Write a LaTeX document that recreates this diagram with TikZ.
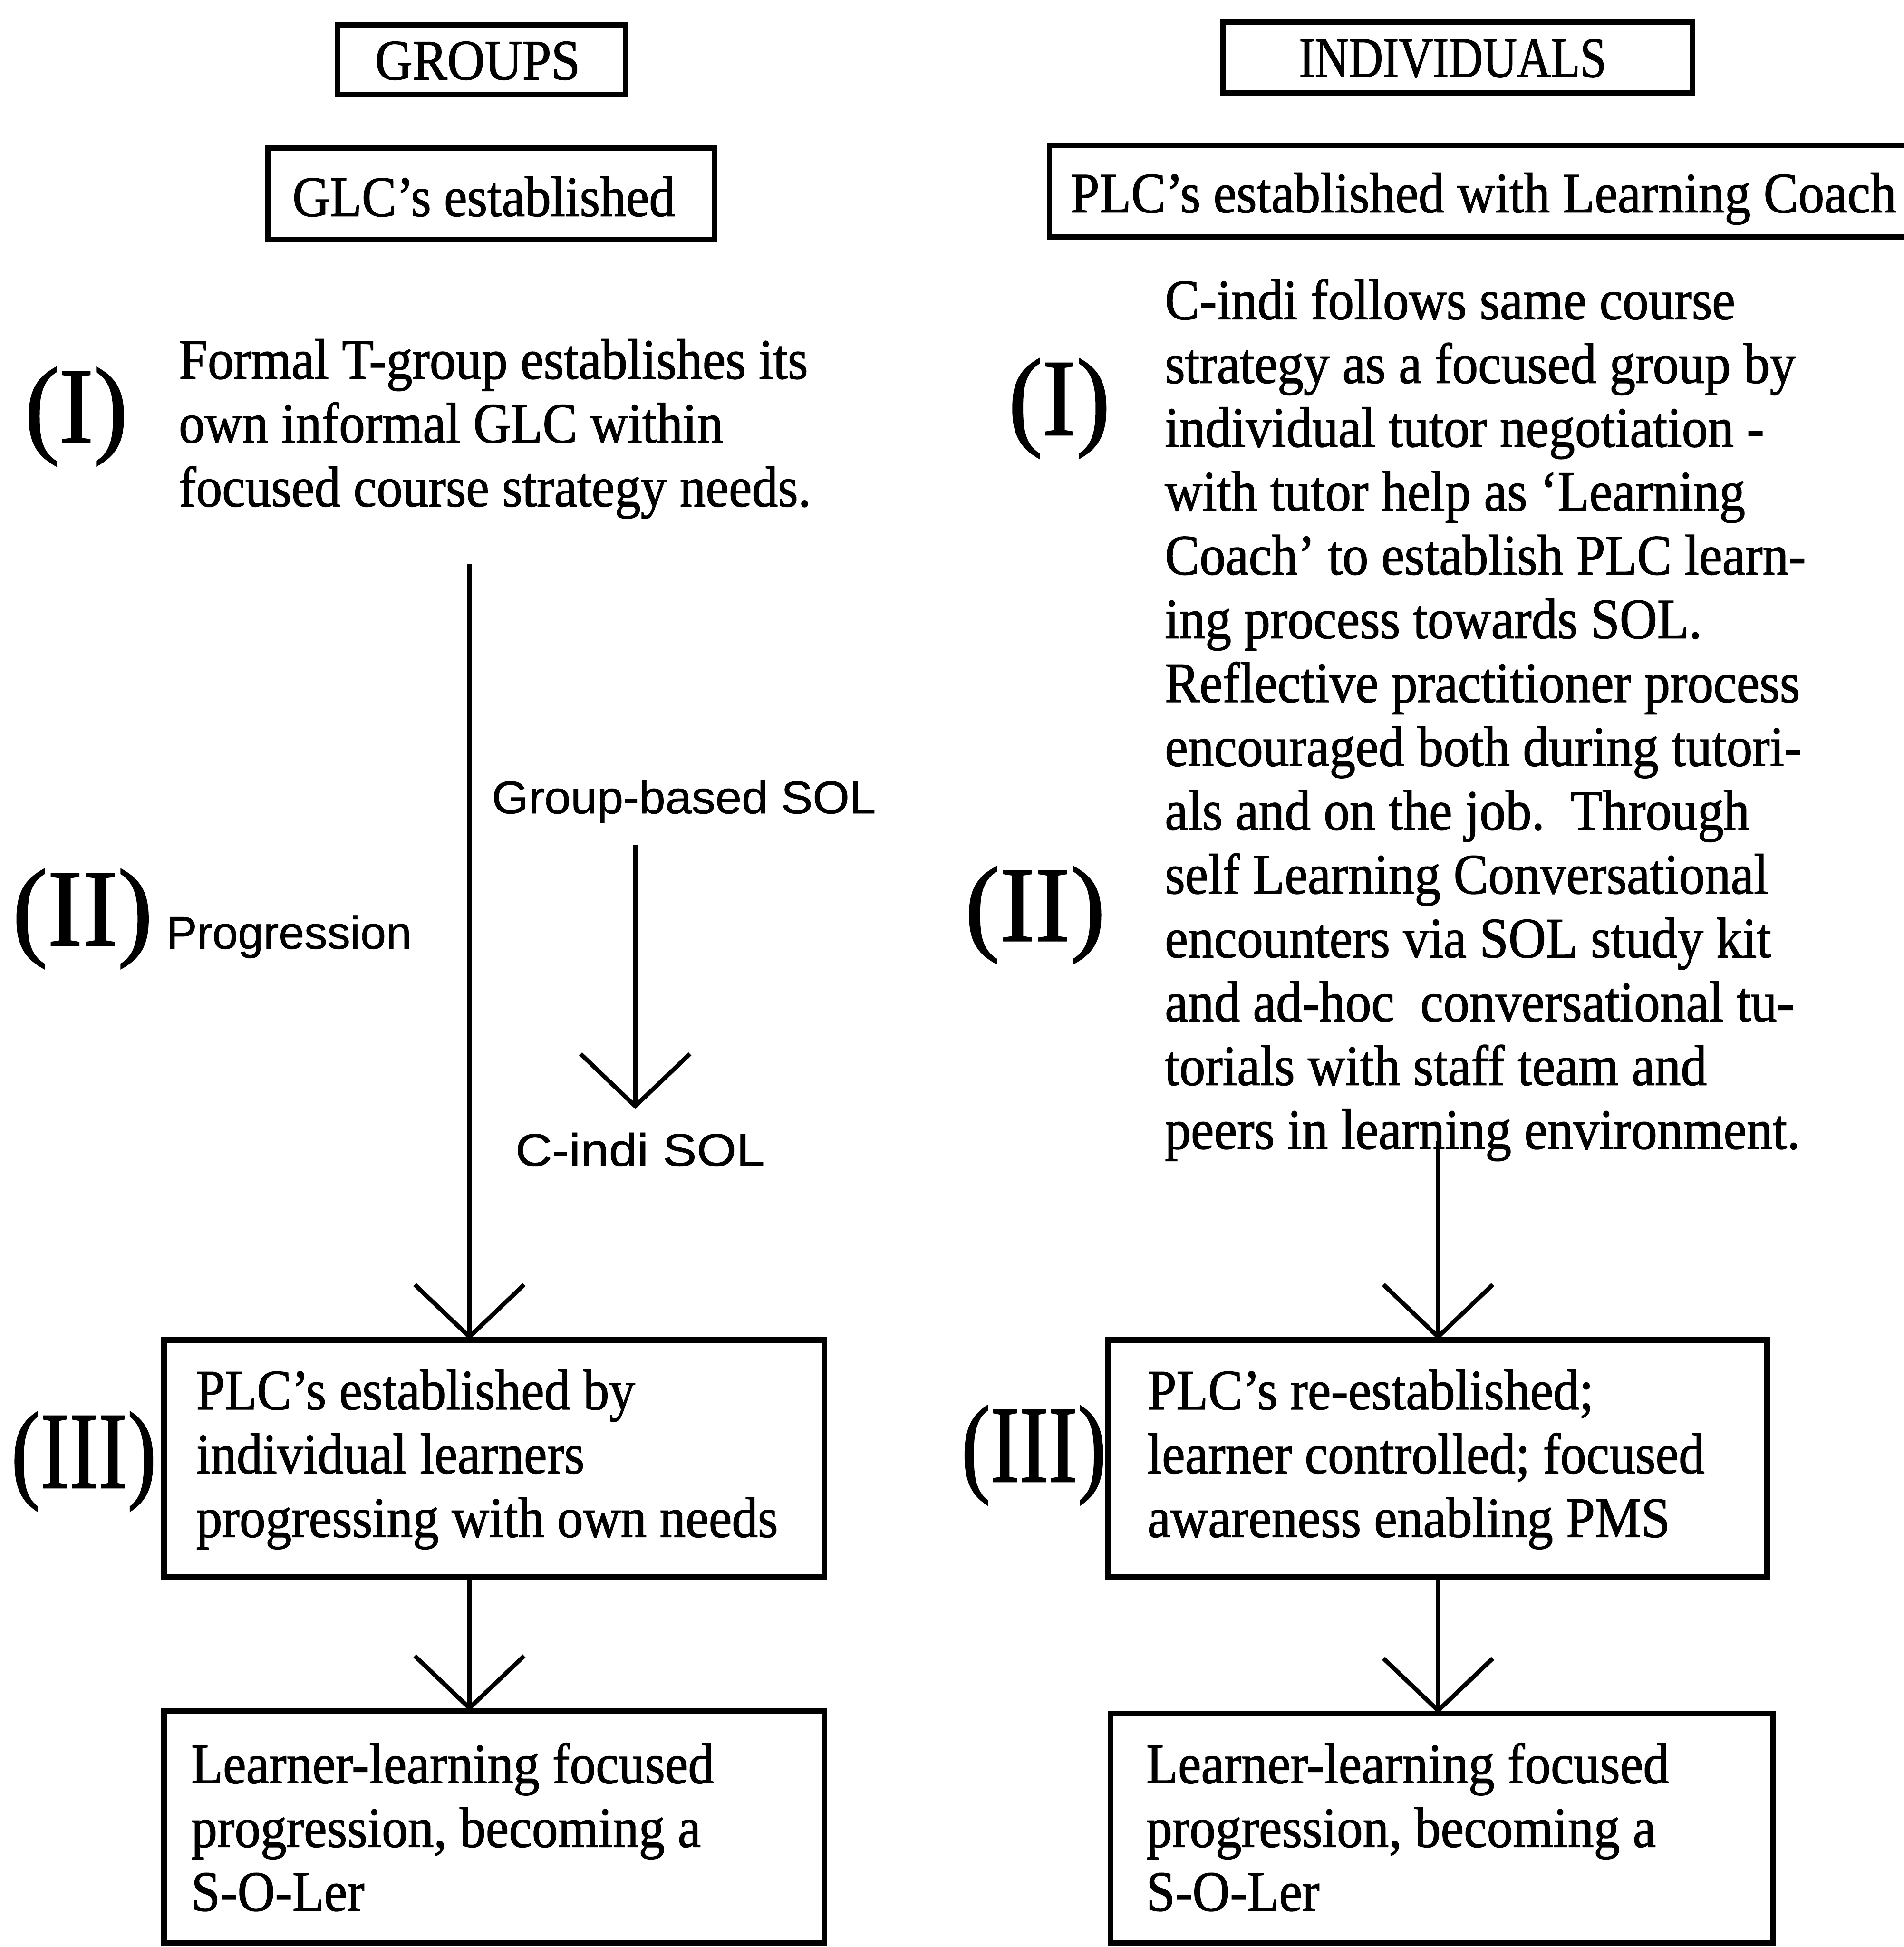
\documentclass[tikz,border=0pt]{standalone}
\usepackage{fontspec}
\usepackage{graphicx}
\setmainfont{Liberation Serif}[FakeStretch=0.91, FakeBold=1.2]
\newfontfamily\labelfont{Liberation Sans}[FakeBold=0.8]
\newfontfamily\numfont{Liberation Serif}[FakeBold=1.2]
\usetikzlibrary{arrows.meta}

% stacked lines with a fixed baseline pitch, baseline at the first line;
% word spaces are kept at the font's own width
\newcommand{\lns}[1]{\spaceskip=0pt\xspaceskip=0pt\begin{tabular}[t]{@{}l@{}}#1\end{tabular}}
% stage numeral squeezed to a given ink box
\newcommand{\stagenum}[3]{\resizebox*{#1}{#2}{\numfont #3}}

\tikzset{
  body/.style={font=\fontsize{46}{51.4}\selectfont, inner sep=0pt, outer sep=0pt},
  boxed/.style={body, draw, line width=4.5pt, inner ysep=0pt, anchor=north west},
  sans/.style={font=\labelfont\fontsize{37}{44}\selectfont, inner xsep=0pt, outer sep=0pt, anchor=base west},
  stage/.style={inner sep=0pt, outer sep=0pt},
  arr/.style={line width=3.5pt, -{Straight Barb[length=42pt, width=88pt]}}
}

\begin{document}
\begin{tikzpicture}[x=1pt, y=-1pt]
\useasboundingbox (0,0) rectangle (1533,1568);
\fill[white] (0,0) rectangle (1533,1568);
\clip (0,0) rectangle (1533,1568);

% ---------- column headers ----------
\node[boxed, inner xsep=30pt, text width=172pt, text height=44pt, text depth=12pt]
  (hg) at (272,20) {\lns{GROUPS}};
\node[boxed, inner xsep=61pt, text width=256pt, text height=44pt, text depth=13pt]
  (hi) at (985,18) {\lns{\scalebox{0.91}[1]{INDIVIDUALS}}};

\node[boxed, inner xsep=20pt, text width=320pt, text height=55pt, text depth=19pt]
  (gl) at (215.5,119) {\lns{GLC's established}};
% this box is open on the right: only its left, top and bottom sides show
\node[body, inner xsep=17pt, inner ysep=0pt, anchor=north west, text width=666pt,
      text height=54pt, text depth=20pt]
  (pl) at (845,117) {\lns{PLC's established with Learning Coach}};
\draw[line width=4.5pt] ([xshift=60pt]pl.north east) -| (pl.south west) -- ([xshift=60pt]pl.south east);

% ---------- groups column ----------
\node[stage] (gI) at (61.5,335.5) {\stagenum{83pt}{79pt}{(I)}};
\node[body, anchor=base west] (gtxt) at (144,305)
  {\lns{Formal T-group establishes its\\own informal GLC within\\focused course strategy needs.}};

\node[stage] (gII) at (66.5,740) {\stagenum{113pt}{80pt}{(II)}};
\node[sans] (prog) at (134,764) {Progression};
\node[sans, inner ysep=18pt] (gsol) at (396,655) {\scalebox{1.03}[1]{Group-based SOL}};
\node[sans, inner ysep=19pt] (cindi) at (415,939) {\scalebox{1.11}[1]{C-indi SOL}};

\node[stage] (gIII) at (67.5,1177) {\stagenum{117pt}{80pt}{(III)}};
\node[boxed, inner xsep=26pt, text width=480pt, text height=56pt, text depth=135pt]
  (g3) at (132,1079) {\lns{PLC's established by\\individual learners\\progressing with own needs}};
\node[boxed, inner xsep=22pt, text width=488pt, text height=58pt, text depth=129pt]
  (g4) at (132,1378) {\lns{Learner-learning focused\\progression, becoming a\\S-O-Ler}};

% ---------- individuals column ----------
\node[stage] (iI) at (853,329) {\stagenum{82pt}{80pt}{(I)}};
\node[stage] (iII) at (833.5,737) {\stagenum{113pt}{78pt}{(II)}};
\node[body, anchor=base west] (itxt) at (938,257)
  {\lns{C-indi follows same course\\
        strategy as a focused group by\\
        individual tutor negotiation -\\
        with tutor help as `Learning\\
        Coach' to establish PLC learn-\\
        ing process towards SOL.\\
        Reflective practitioner process\\
        encouraged both during tutori-\\
        als and on the job.\ \ Through\\
        self Learning Conversational\\
        encounters via SOL study kit\\
        and ad-hoc\ \ conversational tu-\\
        torials with staff team and\\
        peers in learning environment.}};

\node[stage] (iIII) at (832.5,1172) {\stagenum{117pt}{80pt}{(III)}};
\node[boxed, inner xsep=32pt, text width=467pt, text height=56pt, text depth=135pt]
  (i3) at (892,1079) {\lns{PLC's re-established;\\learner controlled; focused\\awareness enabling PMS}};
\node[boxed, inner xsep=29pt, text width=476pt, text height=56pt, text depth=129pt]
  (i4) at (894,1380) {\lns{Learner-learning focused\\progression, becoming a\\S-O-Ler}};

% ---------- connectors ----------
\coordinate (gstart) at (378,454);
\coordinate (sx) at (511.5,681);
\coordinate (istart) at (1158,919);

\draw[arr] (gstart) -- (gstart |- g3.north);
\draw[arr] (gstart |- g3.south) -- (gstart |- g4.north);
\draw[arr] (gsol.south -| sx) -- (cindi.north -| sx);
\draw[arr] (istart) -- (istart |- i3.north);
\draw[arr] (istart |- i3.south) -- (istart |- i4.north);
\end{tikzpicture}
\end{document}
